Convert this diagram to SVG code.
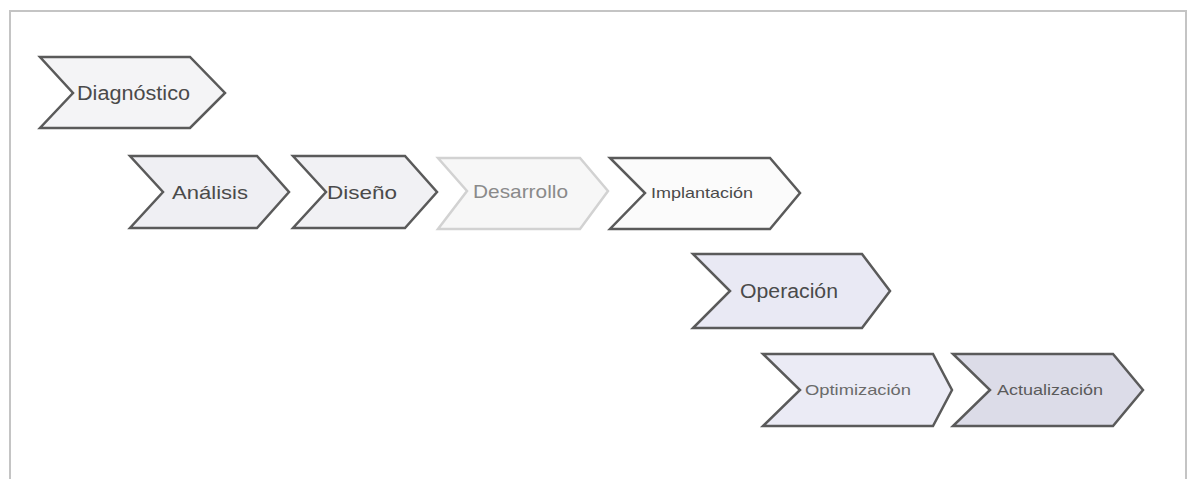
<svg xmlns="http://www.w3.org/2000/svg" width="1191" height="479" viewBox="0 0 1191 479">
<style>
.ch{stroke:#5a5a5a;stroke-width:2.5;stroke-linejoin:miter}
.t{font-family:"Liberation Sans",Arial,sans-serif;fill:#4a4a4a}
</style>
<rect x="0" y="0" width="1191" height="479" fill="#ffffff"/>
<path d="M10 479 V11 H1186 V479" fill="none" stroke="#c4c4c4" stroke-width="2"/>
<g id="connectors"></g>
<g id="diagnostico">
<polygon class="ch" fill="#f4f4f6" points="40,57 190,57 225,93 190,128 40,128 73,93"/>
<text class="t" x="77" y="100" font-size="20" textLength="113" lengthAdjust="spacingAndGlyphs">Diagnóstico</text>
</g>
<g id="analisis">
<polygon class="ch" fill="#efeff3" points="130,156 257,156 289,192 257,228 130,228 163,192"/>
<text class="t" x="172" y="199" font-size="19" textLength="76" lengthAdjust="spacingAndGlyphs">Análisis</text>
</g>
<g id="diseno">
<polygon class="ch" fill="#f1f1f4" points="293,156 405,156 437,192 405,228 293,228 326,192"/>
<text class="t" x="327" y="199" font-size="19" textLength="70" lengthAdjust="spacingAndGlyphs">Diseño</text>
</g>
<g id="desarrollo">
<polygon class="ch" fill="#f7f7f7" style="stroke:#d2d2d2" points="438,158 580,158 608,191 580,229 438,229 467,191"/>
<text class="t" x="473" y="198" font-size="19" textLength="95" lengthAdjust="spacingAndGlyphs" style="fill:#8a8a8a">Desarrollo</text>
</g>
<g id="implantacion">
<polygon class="ch" fill="#fbfbfb" points="610,158 770,158 800,193 770,229 610,229 645,193"/>
<text class="t" x="651" y="198" font-size="15" textLength="102" lengthAdjust="spacingAndGlyphs">Implantación</text>
</g>
<g id="operacion">
<polygon class="ch" fill="#e9e9f4" points="693,254 862,254 890,291 862,328 693,328 730,291"/>
<text class="t" x="740" y="298" font-size="20" textLength="98" lengthAdjust="spacingAndGlyphs">Operación</text>
</g>
<g id="optimizacion">
<polygon class="ch" fill="#ebebf5" points="763,354 933,354 952,390 933,426 763,426 800,390"/>
<text class="t" x="805" y="395" font-size="15" textLength="106" lengthAdjust="spacingAndGlyphs" style="fill:#6a6a6a">Optimización</text>
</g>
<g id="actualizacion">
<polygon class="ch" fill="#dcdce8" points="953,354 1113,354 1143,390 1113,426 953,426 990,390"/>
<text class="t" x="997" y="395" font-size="15" textLength="106" lengthAdjust="spacingAndGlyphs" style="fill:#5a5a5a">Actualización</text>
</g>
</svg>
